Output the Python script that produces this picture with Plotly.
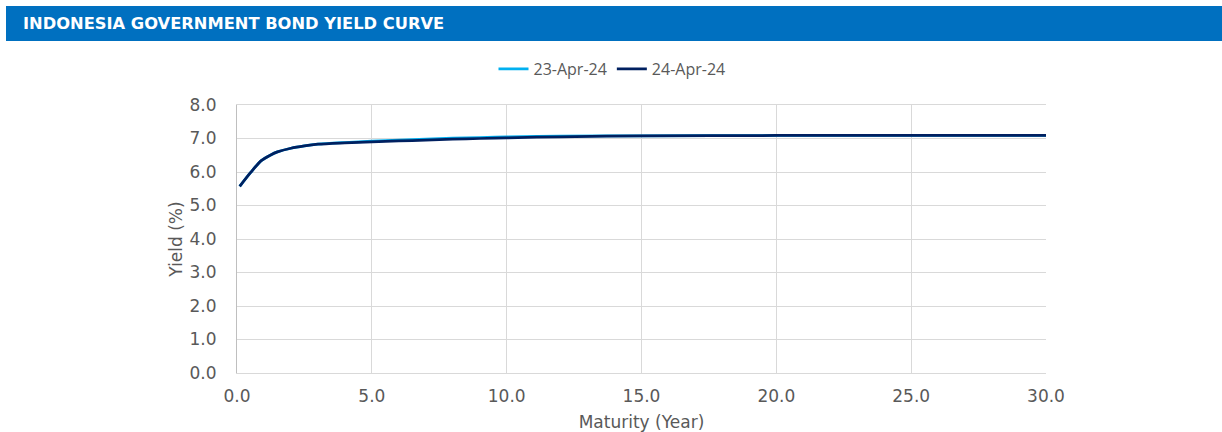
import plotly.graph_objects as go

maturity = [0.1, 0.5, 0.9, 1.25, 1.5, 2, 2.5, 3, 4, 5, 6, 7, 8, 9, 10, 12, 15, 20, 25, 30]
yield_23apr = [5.57, 5.98, 6.34, 6.51, 6.60, 6.71, 6.78, 6.83, 6.88, 6.92, 6.95, 6.98, 7.01, 7.03, 7.05, 7.07, 7.08, 7.09, 7.09, 7.09]
yield_24apr = [5.57, 5.98, 6.34, 6.51, 6.60, 6.71, 6.78, 6.83, 6.87, 6.90, 6.93, 6.95, 6.98, 7.00, 7.02, 7.05, 7.08, 7.09, 7.09, 7.09]
series_names = ["23-Apr-24", "24-Apr-24"]
title_text = "INDONESIA GOVERNMENT BOND YIELD CURVE"

W, H = 1222, 432
L, R, T, B = 237, 1046, 105, 373

def px(x):
    return (x - L) / (R - L)

def py(y):
    return (B - y) / (B - T)

fig = go.Figure()
fig.add_trace(go.Scatter(x=maturity, y=yield_23apr, mode="lines", name=series_names[0],
                         line=dict(color="#00B0F0", width=2.75, shape="spline", smoothing=0.8)))
fig.add_trace(go.Scatter(x=maturity, y=yield_24apr, mode="lines", name=series_names[1],
                         line=dict(color="#002060", width=2.75, shape="spline", smoothing=0.8)))

tick_font = dict(family="DejaVu Sans", size=17, color="#595959")

fig.update_layout(
    width=W, height=H,
    margin=dict(l=L, r=W - R, t=T, b=H - B, pad=0, autoexpand=False),
    paper_bgcolor="white", plot_bgcolor="white",
    showlegend=True,
    legend=dict(orientation="h", x=px(612), xanchor="center", y=py(69), yanchor="middle",
                font=dict(family="Open Sans", size=16, color="#595959"),
                bgcolor="rgba(0,0,0,0)", tracegroupgap=0),
    xaxis=dict(range=[0, 30], dtick=5, tick0=0, tickformat=".1f", showgrid=True,
               gridcolor="#d9d9d9", gridwidth=1, zeroline=False, showline=True,
               linecolor="#d9d9d9", linewidth=1, ticks="", tickfont=tick_font,
               ticklabelstandoff=8, automargin=False,
               title=dict(text="Maturity (Year)", font=tick_font, standoff=10), mirror=True),
    yaxis=dict(range=[0, 8], dtick=1, tick0=0, tickformat=".1f", showgrid=True,
               gridcolor="#d9d9d9", gridwidth=1, zeroline=False, showline=True,
               linecolor="#bfbfbf", linewidth=1, ticks="", tickfont=tick_font,
               ticklabelstandoff=16, automargin=False,
               title=dict(text="Yield (%)", font=tick_font, standoff=2)),
    shapes=[dict(type="rect", xref="paper", yref="paper",
                 x0=px(6), x1=px(1222), y0=py(41), y1=py(6),
                 fillcolor="#0070C0", line=dict(width=0), layer="below")],
    annotations=[dict(text="<b>" + title_text + "</b>", xref="paper", yref="paper",
                      x=px(21), y=py(23.5), xanchor="left", yanchor="middle", showarrow=False,
                      font=dict(family="DejaVu Sans", size=16.3, color="white"))],
)

fig.write_html("out.html")
